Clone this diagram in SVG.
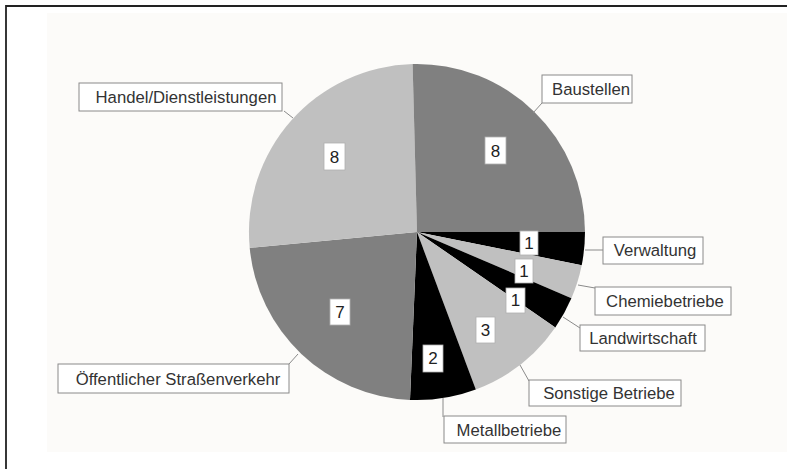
<svg xmlns="http://www.w3.org/2000/svg" width="787" height="469" viewBox="0 0 787 469">
<style>
.lbl{fill:#ffffff;stroke:#8a8a8a;stroke-width:1}
.t{font-family:"Liberation Sans",Arial,sans-serif;font-size:16.7px;fill:#333;text-anchor:middle}
.vb{fill:#ffffff;stroke:#b0b0b0;stroke-width:0.8}
.v{font-family:"Liberation Sans",Arial,sans-serif;font-size:17px;fill:#222;text-anchor:middle}
.ld{stroke:#8a8a8a;stroke-width:1;fill:none}
.blk{fill:#000}
.lg{fill:#c0c0c0}
.dg{fill:#808080}
</style>
<rect x="0" y="0" width="787" height="469" fill="#ffffff"/>
<rect x="47" y="13" width="740" height="439" fill="#fcfbf9"/>
<path d="M6,469 V6 H787" fill="none" stroke="#222" stroke-width="1.8"/>

<g id="slices">
<path id="s-verwaltung" class="blk" d="M417,232 L585,232 A168,168 0 0 1 581.7,265.2 Z"/>
<path id="s-chemie" class="lg" d="M417,232 L581.7,265.2 A168,168 0 0 1 571.4,298.2 Z"/>
<path id="s-landw" class="blk" d="M417,232 L571.4,298.2 A168,168 0 0 1 555.3,327.4 Z"/>
<path id="s-sonstige" class="lg" d="M417,232 L555.3,327.4 A168,168 0 0 1 475.8,389.4 Z"/>
<path id="s-metall" class="blk" d="M417,232 L475.8,389.4 A168,168 0 0 1 410,399.9 Z"/>
<path id="s-oeff" class="dg" d="M417,232 L410,399.9 A168,168 0 0 1 249.7,247.8 Z"/>
<path id="s-handel" class="lg" d="M417,232 L249.7,247.8 A168,168 0 0 1 412.6,64.05 Z"/>
<path id="s-baustellen" class="dg" d="M417,232 L412.6,64.05 A168,168 0 0 1 585,232 Z"/>
</g>

<g id="connectors">
<line class="ld" x1="533" y1="113" x2="542" y2="103"/>
<line class="ld" x1="293" y1="118" x2="284" y2="111"/>
<line class="ld" x1="298" y1="354" x2="289" y2="364"/>
<line class="ld" x1="443" y1="398" x2="443" y2="417"/>
<line class="ld" x1="520" y1="365" x2="529" y2="381"/>
<line class="ld" x1="563" y1="317" x2="580" y2="328"/>
<line class="ld" x1="578" y1="285" x2="595" y2="288"/>
<line class="ld" x1="585" y1="250" x2="603" y2="250"/>
</g>

<g id="values">
<rect class="vb" x="485" y="137" width="21" height="27"/><text class="v" x="495.5" y="157">8</text>
<rect class="vb" x="324" y="143" width="21" height="27"/><text class="v" x="334.5" y="163">8</text>
<rect class="vb" x="330" y="299" width="20" height="26"/><text class="v" x="340" y="318">7</text>
<rect class="vb" x="423" y="345" width="20" height="27"/><text class="v" x="433" y="364">2</text>
<rect class="vb" x="476" y="317" width="19" height="26"/><text class="v" x="485.5" y="336">3</text>
<rect class="vb" x="520" y="231" width="18" height="24"/><text class="v" x="529" y="249">1</text>
<rect class="vb" x="515" y="259" width="18" height="24"/><text class="v" x="524" y="277">1</text>
<rect class="vb" x="506" y="288" width="19" height="25"/><text class="v" x="515.5" y="306">1</text>
</g>

<g id="n-baustellen"><rect class="lbl" x="542" y="75" width="90" height="28"/><text class="t" x="591" y="95">Baustellen</text></g>
<g id="n-handel"><rect class="lbl" x="79" y="83" width="203" height="28"/><text class="t" x="186" y="103">Handel/Dienstleistungen</text></g>
<g id="n-verwaltung"><rect class="lbl" x="603" y="237" width="100" height="27"/><text class="t" x="655" y="256">Verwaltung</text></g>
<g id="n-chemie"><rect class="lbl" x="595" y="287" width="136" height="28"/><text class="t" x="665" y="307">Chemiebetriebe</text></g>
<g id="n-landw"><rect class="lbl" x="580" y="325" width="125" height="26"/><text class="t" x="643" y="344">Landwirtschaft</text></g>
<g id="n-sonstige"><rect class="lbl" x="529" y="380" width="152" height="26"/><text class="t" x="609" y="399">Sonstige Betriebe</text></g>
<g id="n-metall"><rect class="lbl" x="444" y="416" width="122" height="27"/><text class="t" x="509" y="436">Metallbetriebe</text></g>
<g id="n-oeff"><rect class="lbl" x="58" y="364" width="231" height="29"/><text class="t" x="178" y="385">Öffentlicher Straßenverkehr</text></g>
</svg>
